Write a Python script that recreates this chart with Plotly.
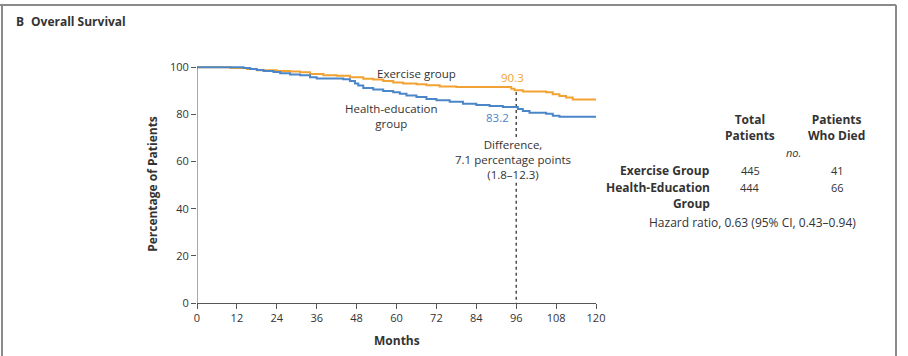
import plotly.graph_objects as go

# ---- data ----
ex_months = [0, 10, 15, 18, 24, 28, 31, 34, 38, 42, 46, 50, 53, 56, 59, 62, 66, 69, 73, 78,
             94.5, 95.5, 98, 105, 107, 109, 111, 113, 120]
ex_surv = [100, 99.7, 99.3, 98.8, 98.5, 98.2, 97.9, 97.2, 96.7, 96.4, 95.8, 95.2, 94.8, 94.2,
           93.6, 93.2, 92.8, 92.4, 91.9, 91.7, 90.9, 90.3, 89.8, 89.4, 88.6, 87.8, 87.2, 86.4, 86.4]

he_months = [0, 14, 16, 18, 20, 23, 25, 28, 31, 34, 36, 44, 46, 47.5, 48.5, 50, 53, 56, 59, 61,
             63, 66, 69, 72, 76, 80, 84, 88, 92, 96.5, 98, 100, 105, 107, 109, 120]
he_surv = [100, 99.7, 99.3, 98.9, 98.5, 98.0, 97.5, 97.0, 96.6, 95.8, 95.3, 95.0, 94.2, 93.2,
           92.3, 91.2, 90.6, 90.0, 89.4, 88.8, 88.1, 87.4, 86.6, 86.0, 85.4, 84.6, 84.0, 83.6,
           83.2, 82.3, 81.5, 80.7, 80.3, 79.5, 79.0, 79.0]

x_ticks = [0, 12, 24, 36, 48, 60, 72, 84, 96, 108, 120]
y_ticks = [0, 20, 40, 60, 80, 100]

diff_month = 96
ex_at_diff = 90.3
he_at_diff = 83.2

table_cols = ["Total<br>Patients", "Patients<br>Who Died"]
table_rows = ["Exercise Group", "Health-Education<br>Group"]
table_total = [445, 444]
table_died = [41, 66]

ORANGE = "#F2A232"
BLUE = "#4A86C8"
TXT = "#333333"
FONT = "Open Sans"

W, H = 908, 356
L, R, T, B = 197, 312, 65, 53
pw, ph = W - L - R, H - T - B


def px(x):
    return (x - L) / pw


def py(y):
    return (H - B - y) / ph


fig = go.Figure()

# dashed difference line (broken around the text)
fig.add_trace(go.Scatter(
    x=[diff_month, diff_month, None, diff_month, diff_month],
    y=[ex_at_diff - 0.8, 70, None, 51, 0],
    mode="lines", line=dict(color="#222222", width=1.2, dash="3px,3px"),
    hoverinfo="skip", showlegend=False))

fig.add_trace(go.Scatter(x=ex_months, y=ex_surv, mode="lines", line_shape="hv",
                         line=dict(color=ORANGE, width=2), showlegend=False))
fig.add_trace(go.Scatter(x=he_months, y=he_surv, mode="lines", line_shape="hv",
                         line=dict(color=BLUE, width=2), showlegend=False))

ann = []


def A(x, y, text, xref="x", yref="y", size=11.5, color=TXT, xanchor="center", align="center"):
    ann.append(dict(x=x, y=y, xref=xref, yref=yref, text=text, showarrow=False,
                    font=dict(family=FONT, size=size, color=color),
                    xanchor=xanchor, yanchor="middle", align=align))


A(66, 97.5, "Exercise group")
A(58.5, 79.5, "Health-education<br>group")
A(95, 95.6, "90.3", color=ORANGE)
A(90.5, 78.8, "83.2", color=BLUE)
A(95, 60.8, "Difference,<br>7.1 percentage points<br>(1.8\u201312.3)")

A(px(14), py(21), "<b>B</b>", xref="paper", yref="paper", size=12, xanchor="left")
A(px(29), py(21), "<b>Overall Survival</b>", xref="paper", yref="paper", size=12, xanchor="left")
A(px(397), py(341), "<b>Months</b>", xref="paper", yref="paper", size=12)

A(px(750), py(127), "<b>" + table_cols[0] + "</b>", xref="paper", yref="paper", size=12)
A(px(836), py(127), "<b>" + table_cols[1] + "</b>", xref="paper", yref="paper", size=12)
A(px(793), py(152), "<i>no.</i>", xref="paper", yref="paper", size=11)
A(px(712), py(170), "<b>" + table_rows[0] + "</b>", xref="paper", yref="paper", size=12,
  xanchor="right", align="right")
A(px(712), py(195), "<b>" + table_rows[1] + "</b>", xref="paper", yref="paper", size=12,
  xanchor="right", align="right")
A(px(750), py(170), str(table_total[0]), xref="paper", yref="paper", size=11)
A(px(837), py(170), str(table_died[0]), xref="paper", yref="paper", size=11)
A(px(750), py(187), str(table_total[1]), xref="paper", yref="paper", size=11)
A(px(837), py(187), str(table_died[1]), xref="paper", yref="paper", size=11)
A(px(752), py(222), "Hazard ratio, 0.63 (95% CI, 0.43\u20130.94)", xref="paper", yref="paper", size=12)

shapes = [
    dict(type="line", xref="x", yref="y", x0=0, x1=0, y0=0, y1=100,
         line=dict(color="#555555", width=1)),
    dict(type="line", xref="paper", yref="paper", x0=px(0), x1=px(896), y0=py(5), y1=py(5),
         line=dict(color="#8a8a8a", width=2)),
    dict(type="line", xref="paper", yref="paper", x0=px(2), x1=px(2), y0=py(5), y1=py(360),
         line=dict(color="#8a8a8a", width=2)),
    dict(type="line", xref="paper", yref="paper", x0=px(896), x1=px(896), y0=py(5), y1=py(360),
         line=dict(color="#8a8a8a", width=2)),
]

fig.update_layout(
    width=W, height=H, margin=dict(l=L, r=R, t=T, b=B, autoexpand=False),
    paper_bgcolor="white", plot_bgcolor="white",
    font=dict(family=FONT, size=11, color=TXT),
    annotations=ann, shapes=shapes, showlegend=False,
    xaxis=dict(range=[0, 120], tickvals=x_ticks, showline=True, linecolor="#555555", linewidth=1,
               ticks="outside", ticklen=5, tickcolor="#555555", showgrid=False, zeroline=False,
               automargin=False,
               tickfont=dict(family=FONT, size=11, color=TXT)),
    yaxis=dict(range=[0, 101], tickvals=y_ticks, showline=False,
               ticks="outside", ticklen=5, tickcolor="#555555", showgrid=False, zeroline=False,
               tickfont=dict(family=FONT, size=11, color=TXT),
               title=dict(text="<b>Percentage of Patients</b>", font=dict(family=FONT, size=12, color=TXT),
                          standoff=9)),
)

fig.write_html("out.html", post_script="document.body.style.margin='0';",
               config={"displayModeBar": False})
